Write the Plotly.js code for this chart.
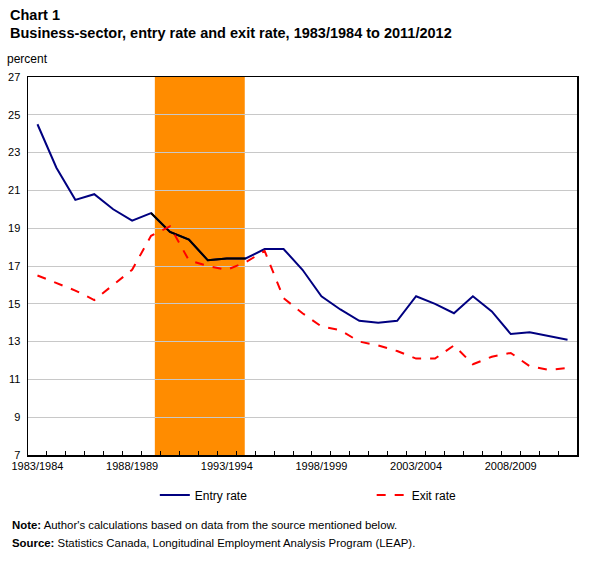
<!DOCTYPE html>
<html>
<head>
<meta charset="utf-8">
<script src="https://cdn.plot.ly/plotly-3.0.1.min.js"></script>
<style>
html,body{margin:0;padding:0;background:#fff;}
#chart{width:607px;height:567px;}
</style>
</head>
<body>
<div id="chart"></div>
<script>
const categories = ["1983/1984","1984/1985","1985/1986","1986/1987","1987/1988","1988/1989","1989/1990","1990/1991","1991/1992","1992/1993","1993/1994","1994/1995","1995/1996","1996/1997","1997/1998","1998/1999","1999/2000","2000/2001","2001/2002","2002/2003","2003/2004","2004/2005","2005/2006","2006/2007","2007/2008","2008/2009","2009/2010","2010/2011","2011/2012"];
const entryRate = [24.5,22.2,20.5,20.8,20.0,19.4,19.8,18.8,18.4,17.3,17.4,17.4,17.9,17.9,16.8,15.4,14.7,14.1,14.0,14.1,15.4,15.0,14.5,15.4,14.6,13.4,13.5,13.3,13.1];
const exitRate = [16.5,16.1,15.7,15.2,16.0,16.8,18.6,19.1,17.3,17.0,16.8,17.2,17.8,15.3,14.5,13.8,13.6,13.0,12.8,12.5,12.1,12.1,12.8,11.8,12.2,12.4,11.7,11.5,11.6];
const tickLabels = ["1983/1984","1988/1989","1993/1994","1998/1999","2003/2004","2008/2009"];
const yTicks = [7,9,11,13,15,17,19,21,23,25,27];
const recessionStart = 6.2;
const recessionEnd = 10.95;

const xIdx = categories.map((c, i) => i);
const tickIdx = tickLabels.map(l => categories.indexOf(l));
const boundaries = categories.map((c, i) => i - 0.5).slice(1);

const font = "Liberation Sans, Arial, sans-serif";

const traces = [
  {x: xIdx, y: entryRate, name: "Entry rate", type: "scatter", mode: "lines",
   line: {color: "#000080", width: 2}, hoverinfo: "skip", legend: "legend"},
  {x: xIdx.slice(6, 12), y: entryRate.slice(6, 12), name: "Entry rate (shaded)", type: "scatter", mode: "lines",
   line: {color: "#000000", width: 2}, showlegend: false, hoverinfo: "skip"},
  {x: xIdx, y: exitRate, name: "Exit rate", type: "scatter", mode: "lines",
   line: {color: "#ff0000", width: 2, dash: "dash"}, hoverinfo: "skip", legend: "legend2"}
];

const legendCommon = {
  orientation: "h", xanchor: "left", yanchor: "middle", y: -0.106,
  font: {family: font, size: 12, color: "#000"},
  bgcolor: "rgba(0,0,0,0)"
};

const layout = {
  width: 607, height: 567,
  margin: {l: 28, r: 30, t: 77, b: 112},
  paper_bgcolor: "#ffffff", plot_bgcolor: "#ffffff",
  font: {family: font, size: 11, color: "#000"},
  xaxis: {
    type: "linear", range: [-0.5, 28.5],
    tickmode: "array", tickvals: tickIdx, ticktext: tickLabels,
    ticks: "", showgrid: false, zeroline: false,
    showline: true, linecolor: "#000", linewidth: 1.5, mirror: true,
    tickfont: {family: font, size: 11, color: "#000"},
    minor: {tickmode: "array", tickvals: boundaries, ticks: "inside", ticklen: 4, tickcolor: "#000", tickwidth: 1, showgrid: false},
    fixedrange: true
  },
  yaxis: {
    range: [7, 27], tickmode: "array", tickvals: yTicks,
    ticks: "", showgrid: true, gridcolor: "#c8c8c8", gridwidth: 1, zeroline: false,
    showline: true, linecolor: "#000", linewidth: 1.5, mirror: true,
    tickfont: {family: font, size: 11, color: "#000"},
    ticklabelstandoff: 4,
    fixedrange: true
  },
  shapes: [
    {type: "rect", xref: "x", yref: "paper", x0: recessionStart, x1: recessionEnd, y0: 0, y1: 1,
     fillcolor: "#ff8c00", line: {width: 0}, layer: "below"}
  ],
  showlegend: true,
  legend: Object.assign({}, legendCommon, {x: 0.231}),
  legend2: Object.assign({}, legendCommon, {x: 0.626}),
  annotations: [
    {text: "<b>Chart 1</b>", xref: "paper", yref: "paper", x: -0.037, y: 1.164, xanchor: "left", yanchor: "middle",
     showarrow: false, font: {family: font, size: 14.5, color: "#000"}},
    {text: "<b>Business-sector, entry rate and exit rate, 1983/1984 to 2011/2012</b>", xref: "paper", yref: "paper",
     x: -0.037, y: 1.116, xanchor: "left", yanchor: "middle",
     showarrow: false, font: {family: font, size: 14.5, color: "#000"}},
    {text: "percent", xref: "paper", yref: "paper", x: -0.042, y: 1.048, xanchor: "left", yanchor: "middle",
     showarrow: false, font: {family: font, size: 12, color: "#000"}},
    {text: "<b>Note:</b> Author's calculations based on data from the source mentioned below.",
     xref: "paper", yref: "paper", x: -0.033, y: -0.185, xanchor: "left", yanchor: "middle",
     showarrow: false, font: {family: font, size: 11.4, color: "#000"}},
    {text: "<b>Source:</b> Statistics Canada, Longitudinal Employment Analysis Program (LEAP).",
     xref: "paper", yref: "paper", x: -0.033, y: -0.233, xanchor: "left", yanchor: "middle",
     showarrow: false, font: {family: font, size: 11.4, color: "#000"}}
  ]
};

Plotly.newPlot("chart", traces, layout, {displayModeBar: false, staticPlot: true});
</script>
</body>
</html>
